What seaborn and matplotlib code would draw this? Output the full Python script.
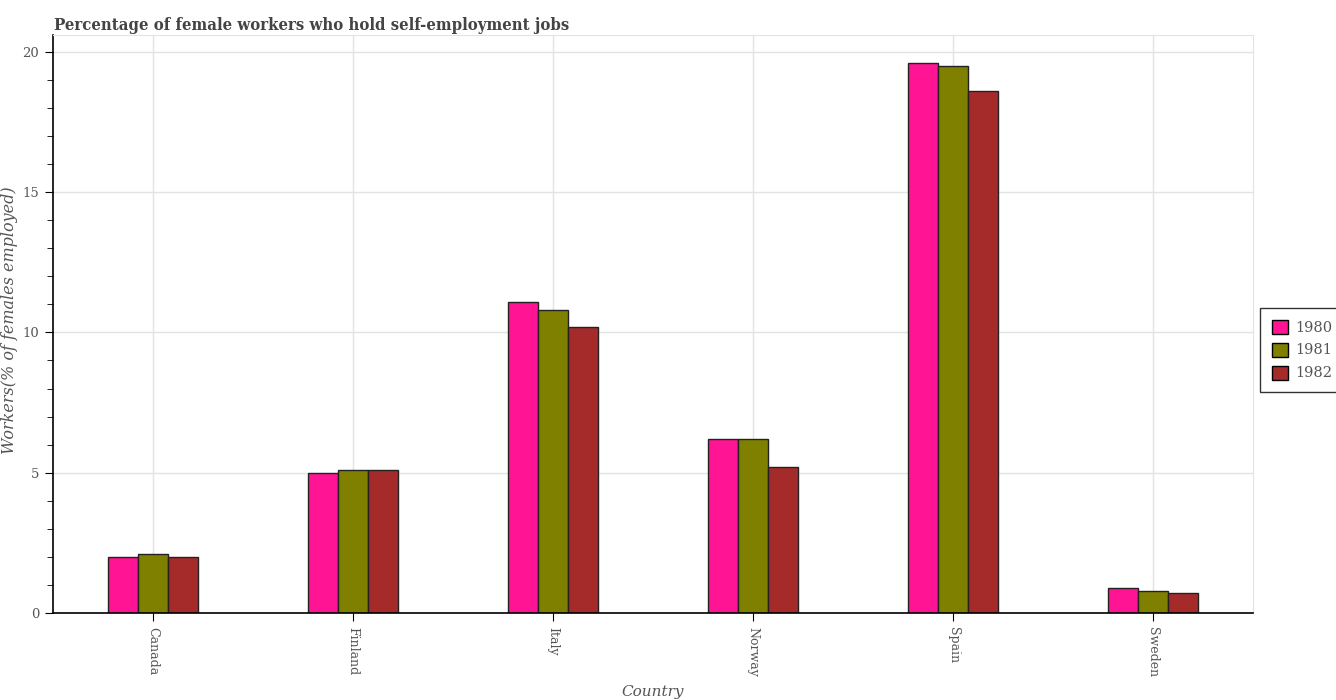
import matplotlib
matplotlib.use("Agg")
import matplotlib.pyplot as plt
import seaborn as sns
import pandas as pd
from matplotlib.ticker import MultipleLocator

countries = ["Canada", "Finland", "Italy", "Norway", "Spain", "Sweden"]
years = ["1980", "1981", "1982"]
v1980 = [2.0, 5.0, 11.1, 6.2, 19.6, 0.9]
v1981 = [2.1, 5.1, 10.8, 6.2, 19.5, 0.8]
v1982 = [2.0, 5.1, 10.2, 5.2, 18.6, 0.7]
colors = ["#ff1493", "#808000", "#a52a2a"]

rows = []
for y, vals in zip(years, [v1980, v1981, v1982]):
    for c, v in zip(countries, vals):
        rows.append({"Country": c, "Year": y, "Value": v})
df = pd.DataFrame(rows)

sns.set_style("white")
plt.rcParams["font.family"] = ["DejaVu Serif"]

fig = plt.figure(figsize=(13.36, 7.0), dpi=100)
ax = fig.add_axes([53/1336, 1-613/700, 1200/1336, 578/700])

sns.barplot(data=df, x="Country", y="Value", hue="Year", palette=colors,
            width=0.45, ax=ax, edgecolor="#222222", linewidth=1.0,
            saturation=1)

ax.set_xlim(-0.5, 5.5)
ax.set_ylim(0, 20.6)
ax.yaxis.set_major_locator(MultipleLocator(5))
ax.yaxis.set_minor_locator(MultipleLocator(1))
ax.grid(True, which="major", color="#e3e3e3", linewidth=1)
ax.set_axisbelow(True)

for s in ["top", "right"]:
    ax.spines[s].set_color("#e3e3e3")
for s in ["left", "bottom"]:
    ax.spines[s].set_color("black")
    ax.spines[s].set_linewidth(1.2)

ax.tick_params(axis="y", which="major", length=6, color="black", labelsize=9.5, labelcolor="#555555", left=True, pad=4)
ax.tick_params(axis="y", which="minor", length=4, color="black", left=True)
ax.tick_params(axis="x", length=6, color="black", labelsize=9, labelcolor="#555555", bottom=True, pad=4)
plt.setp(ax.get_xticklabels(), rotation=270)

ax.set_xlabel("Country", fontsize=11, style="italic", color="#555555", labelpad=6)
ax.set_ylabel("Workers(% of females employed)", fontsize=11.5, style="italic", color="#555555")
ax.yaxis.set_label_coords((18 - 53) / 1200, (613 - 320) / 578)

fig.text(54/1336, 1-26/700, "Percentage of female workers who hold self-employment jobs",
         fontsize=12, fontweight="bold", fontstretch="condensed", color="#444444",
         va="center", ha="left")

leg = ax.legend(loc="center left", bbox_to_anchor=(1.0, (613 - 350) / 578), frameon=True,
                fancybox=False, edgecolor="black", fontsize=10.5, title=None,
                handlelength=1.1, handleheight=1.1, borderpad=0.8, labelspacing=0.55,
                handletextpad=0.5)
for t in leg.get_texts():
    t.set_color("#555555")
for h in leg.legend_handles:
    h.set_edgecolor("black")

fig.savefig("out.png", dpi=100)
